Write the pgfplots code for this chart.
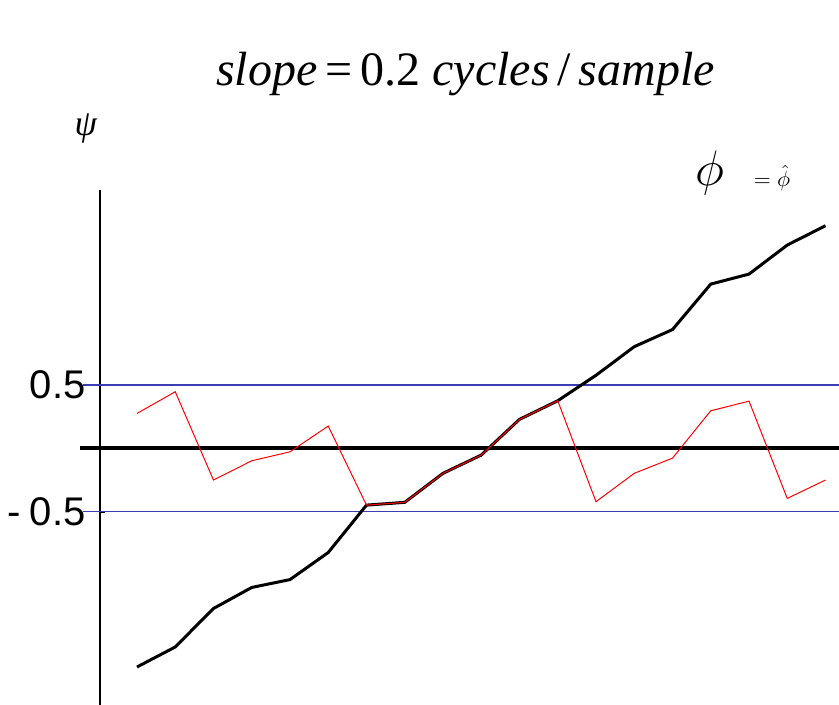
\documentclass[border=0pt]{standalone}
\usepackage{fontspec}
\setmainfont{Liberation Serif}
\setsansfont{Liberation Sans}
\usepackage{pgfplots}
\pgfplotsset{compat=1.18}
\usepackage{pgfplotstable}
\definecolor{refblue}{RGB}{60,60,180}

% sample index, unwrapped phase (black), wrapped phase (red)
\pgfplotstableread{
i   phi     psi
0   -1.726  0.276
1   -1.568  0.447
2   -1.264  -0.250
3   -1.098  -0.098
4   -1.036  -0.027
5   -0.822  0.176
6   -0.448  -0.448
7   -0.426  -0.426
8   -0.197  -0.197
9   -0.053  -0.053
10  0.229   0.229
11  0.376   0.376
12  0.577   -0.421
13  0.803   -0.197
14  0.938   -0.077
15  1.297   0.297
16  1.376   0.373
17  1.605   -0.395
18  1.758   -0.250
}\phasedata

\begin{document}
\begin{tikzpicture}
\useasboundingbox (0pt,0pt) rectangle (419.5pt,352.5pt);
\begin{axis}[
    at={(50pt,0pt)}, anchor=south west,
    scale only axis,
    width=369.5pt, height=257.5pt,
    xmin=-0.967, xmax=18.353,
    ymin=-2.026, ymax=2.04,
    axis x line=none,
    axis y line*=left,
    y axis line style={line width=1.3pt},
    ytick={-0.5,0.5},
    yticklabels={\textsf{-\hspace{4.8pt}0.5},\textsf{0.5}},
    yticklabel style={font=\fontsize{20}{20}\selectfont, inner sep=0pt, xshift=-7pt},
    tick align=inside,
    major tick length=2.5pt,
    ytick style={line width=1.2pt, black},
    clip=false,
]
\draw[refblue, line width=0.6pt] (axis cs:-1.41,0.5) -- (axis cs:18.353,0.5);
\draw[refblue, line width=0.6pt] (axis cs:-1.41,-0.5) -- (axis cs:18.353,-0.5);
\draw[black, line width=2pt] (axis cs:-1.49,0) -- (axis cs:18.353,0);
\addplot[black, line width=1.5pt] table[x=i, y=phi] {\phasedata};
\addplot[red, line width=0.5pt] table[x=i, y=psi] {\phasedata};
\end{axis}
\node[anchor=base, font=\fontsize{24}{24}\selectfont] at (232.75pt,309.5pt)
    {\textit{slope}\,=\,0.2\ \textit{cycles}\,/\,\textit{sample}};
\node[font=\fontsize{18}{18}\selectfont] at (43pt,288pt) {\textit{ψ}};
\node[font=\fontsize{23}{23}\selectfont] at (355pt,266pt) {$\phi$};
\node[font=\fontsize{11}{11}\selectfont] at (386pt,263.5pt) {$=\hat{\phi}$};
\end{tikzpicture}
\end{document}
